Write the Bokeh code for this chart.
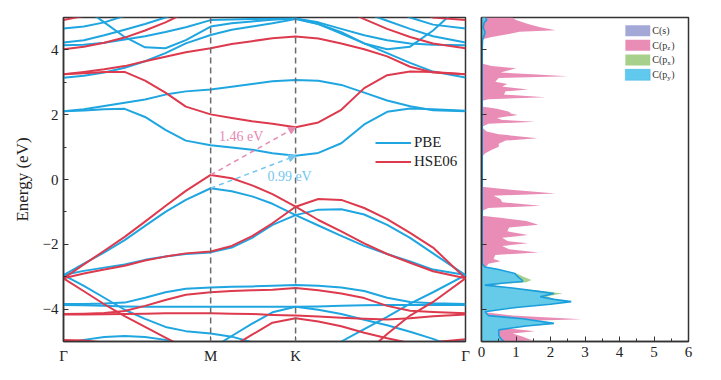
from bokeh.plotting import figure
from bokeh.layouts import row
from bokeh.models import (FixedTicker, Span, Legend, LegendItem, Label, Arrow,
                          NormalHead, BoxAnnotation, Range1d)
from bokeh.embed import file_html
from bokeh.resources import INLINE

# ---------------- data ----------------
K_PATH = [0, 0.08, 0.16, 0.24, 0.32, 0.40, 0.48, 0.5774, 0.66, 0.74, 0.82,
          0.9107, 1.0, 1.09, 1.18, 1.27, 1.36, 1.45, 1.5774]
K_TICKS = [0, 0.5774, 0.9107, 1.5774]
K_LABELS = ["Γ", "M", "K", "Γ"]
E_TICKS = [-4, -2, 0, 2, 4]

pbe_cb1 = [2.11, 2.13, 2.17, 2.18, 1.93, 1.53, 1.2, 1.06, 0.99, 0.92, 0.81, 0.73, 0.82, 1.12, 1.7, 2.09, 2.19, 2.17, 2.12]
pbe_cb2 = [2.11, 2.17, 2.27, 2.37, 2.47, 2.62, 2.72, 2.78, 2.86, 2.95, 3.03, 3.07, 3.05, 2.92, 2.68, 2.44, 2.26, 2.14, 2.11]
pbe_cb3 = [3.14, 3.2, 3.3, 3.45, 3.65, 3.9, 4.2, 4.46, 4.62, 4.72, 4.82, 4.95, 4.8, 4.55, 4.2, 3.9, 3.6, 3.33, 3.15]
pbe_b4 = [4.23, 4.3, 4.45, 4.62, 4.8, 5.0, 5.2, 5.4, 5.5, 5.6, 5.65, 5.7, 5.6, 5.4, 5.15, 4.9, 4.65, 4.42, 4.23]
pbe_b5 = [5.6, 5.3, 4.85, 4.4, 4.08, 4.05, 4.3, 4.72, 4.82, 4.88, 4.93, 4.97, 4.8, 4.5, 4.2, 4.02, 4.1, 4.6, 5.5]
pbe_b6 = [4.66, 4.72, 4.85, 5.05, 5.25, 5.45, 5.6, 5.75, 5.85, 5.9, 5.95, 6.0, 5.95, 5.8, 5.6, 5.35, 5.0, 4.78, 4.66]
pbe_b7 = [4.14, 4.16, 4.22, 4.32, 4.42, 4.55, 4.7, 4.92, 4.94, 4.95, 4.96, 4.97, 4.85, 4.65, 4.45, 4.3, 4.2, 4.16, 4.14]
pbe_vb1 = [-2.95, -2.6, -2.25, -1.87, -1.43, -1.0, -0.63, -0.27, -0.36, -0.52, -0.75, -1.1, -1.42, -1.74, -2.05, -2.3, -2.53, -2.78, -2.95]
pbe_vb2 = [-2.95, -2.82, -2.72, -2.62, -2.48, -2.38, -2.3, -2.25, -2.1, -1.8, -1.4, -1.1, -0.93, -0.92, -1.08, -1.4, -1.8, -2.28, -2.95]
pbe_l1 = [-2.95, -3.28, -3.65, -4.02, -4.3, -4.55, -4.68, -4.75, -4.85, -5.02, -5.3, -5.5, -5.4, -5.0, -4.62, -4.24, -3.83, -3.48, -2.95]
pbe_f1 = [-3.84, -3.84, -3.83, -3.8, -3.65, -3.48, -3.37, -3.33, -3.31, -3.3, -3.28, -3.26, -3.28, -3.33, -3.44, -3.65, -3.78, -3.82, -3.84]
pbe_f2 = [-3.87, -3.88, -3.9, -3.92, -3.93, -3.93, -3.93, -3.93, -3.93, -3.93, -3.93, -3.93, -3.92, -3.9, -3.88, -3.87, -3.87, -3.87, -3.87]
pbe_l2 = [-6.5, -6.4, -6.3, -6.2, -6.0, -5.85, -5.6, -5.23, -4.83, -4.45, -4.1, -3.93, -4.02, -4.15, -4.33, -4.5, -4.7, -4.92, -5.3]
pbe_bot = [-5.05, -4.95, -4.86, -4.83, -4.86, -4.95, -5.1, -5.3, -5.5, -5.6, -5.7, -5.75, -5.7, -5.6, -5.45, -5.3, -5.15, -5.02, -4.98]

hse_cb1 = [3.25, 3.28, 3.32, 3.32, 3.05, 2.68, 2.25, 2.01, 1.9, 1.8, 1.72, 1.61, 1.76, 2.15, 2.82, 3.22, 3.33, 3.32, 3.25]
hse_cb2 = [3.25, 3.32, 3.4, 3.5, 3.65, 3.79, 3.93, 4.05, 4.18, 4.27, 4.36, 4.41, 4.35, 4.2, 4.02, 3.8, 3.48, 3.3, 3.25]
hse_r3 = [4.02, 4.1, 4.22, 4.38, 4.6, 4.85, 5.15, 5.4, 5.5, 5.6, 5.7, 5.8, 5.6, 5.3, 4.95, 4.65, 4.4, 4.2, 4.05]
hse_r4 = [4.92, 5.05, 5.3, 5.6, 5.9, 6.1, 6.2, 6.3, 6.3, 6.3, 6.3, 6.3, 6.3, 6.2, 6.0, 5.7, 5.3, 5.0, 4.92]
hse_vb1 = [-3.05, -2.62, -2.2, -1.77, -1.3, -0.82, -0.35, 0.14, 0.04, -0.18, -0.45, -0.84, -1.25, -1.6, -1.97, -2.3, -2.57, -2.83, -3.05]
hse_vb2 = [-3.05, -2.9, -2.78, -2.66, -2.5, -2.38, -2.28, -2.22, -2.05, -1.75, -1.35, -0.84, -0.6, -0.63, -0.88, -1.22, -1.65, -2.1, -3.05]
hse_l1 = [-3.05, -3.45, -3.85, -4.22, -4.55, -4.88, -5.2, -5.5, -5.7, -5.8, -5.9, -5.9, -5.8, -5.6, -5.4, -4.77, -4.2, -3.78, -3.05]
hse_f1 = [-4.15, -4.14, -4.12, -4.06, -3.9, -3.72, -3.56, -3.48, -3.44, -3.42, -3.4, -3.35, -3.42, -3.52, -3.66, -3.9, -4.05, -4.09, -4.13]
hse_f2 = [-4.17, -4.17, -4.16, -4.15, -4.14, -4.13, -4.13, -4.13, -4.14, -4.15, -4.18, -4.2, -4.23, -4.27, -4.3, -4.32, -4.28, -4.22, -4.17]
hse_l2 = [-6.5, -6.4, -6.3, -6.2, -6.1, -5.95, -5.8, -5.6, -5.17, -4.79, -4.42, -4.28, -4.38, -4.53, -4.73, -4.9, -5.05, -5.3, -5.6]
hse_bot = [-4.95, -4.97, -5.03, -5.12, -5.25, -5.4, -5.55, -5.7, -5.8, -5.9, -5.95, -6.0, -5.95, -5.85, -5.7, -5.45, -5.2, -5.02, -4.93]

PBE_BANDS = [pbe_cb1, pbe_cb2, pbe_cb3, pbe_b4, pbe_b5, pbe_b6, pbe_b7, pbe_vb1,
             pbe_vb2, pbe_l1, pbe_f1, pbe_f2, pbe_l2, pbe_bot]
HSE_BANDS = [hse_cb1, hse_cb2, hse_r3, hse_r4, hse_vb1, hse_vb2, hse_l1, hse_f1,
             hse_f2, hse_l2, hse_bot]
GAP_LABELS = ["1.46 eV", "0.99 eV"]

# DOS (energy, states)
PZ_E = [5.0, 4.92, 4.8, 4.7, 4.61, 4.56, 4.48, 4.4, 4.32, 3.58, 3.5, 3.43, 3.37, 3.3, 3.24, 3.19, 3.13, 3.02, 2.95, 2.87, 2.78, 2.72, 2.62, 2.54, 2.48, 2.42, 2.25, 2.18, 2.09, 2.04, 1.99, 1.9, 1.84, 1.78, 1.72, 1.62, 1.48, 1.4, 1.27, 1.2, 1.1, 1.01, 0.92, 0.8, 0.68, -0.22, -0.3, -0.43, -0.5, -0.6, -0.7, -0.81, -0.88, -0.98, -1.12, -1.18, -1.28, -1.4, -1.48, -1.6, -1.71, -1.8, -1.9, -1.97, -2.05, -2.15, -2.25, -2.33, -2.45, -2.52, -2.6, -2.75, -3.0, -3.5, -4.1, -4.2, -4.31, -4.37, -4.5, -4.6, -4.68, -4.75, -4.85, -4.95, -5.0]
PZ_DOS = [0.9, 1.0, 1.35, 1.7, 2.15, 1.1, 0.75, 0.3, 0.0, 0.0, 0.3, 1.0, 0.8, 0.55, 1.6, 2.5, 0.5, 0.4, 0.75, 0.6, 1.35, 0.7, 0.65, 1.85, 0.2, 0.0, 0.0, 0.45, 0.8, 0.85, 1.05, 0.45, 0.6, 1.55, 0.2, 0.0, 0.15, 0.5, 1.62, 0.7, 0.5, 0.5, 0.3, 0.1, 0.0, 0.0, 0.7, 2.15, 0.35, 0.55, 0.6, 1.72, 0.2, 0.0, 0.0, 0.55, 1.3, 1.65, 0.8, 0.75, 1.35, 0.6, 0.75, 1.35, 0.6, 0.8, 1.65, 0.4, 0.35, 0.55, 0.2, 0.1, 0.1, 0.1, 0.1, 0.9, 2.9, 1.2, 0.5, 0.8, 1.55, 0.9, 1.2, 1.45, 1.0]
PY_E = [5.0, 4.92, 4.85, 4.7, 4.55, 4.45, 4.3, 4.0, -2.6, -2.7, -2.78, -2.9, -3.0, -3.08, -3.15, -3.2, -3.26, -3.35, -3.46, -3.52, -3.62, -3.7, -3.77, -3.85, -3.95, -4.08, -4.2, -4.3, -4.44, -4.52, -4.64, -4.8, -4.9, -5.0]
PY_DOS = [0.12, 0.15, 0.08, 0.05, 0.1, 0.08, 0.03, 0.02, 0.02, 0.1, 0.5, 0.97, 1.05, 1.15, 1.2, 0.6, 0.1, 0.9, 1.7, 2.1, 1.7, 2.1, 2.6, 2.0, 1.0, 0.1, 0.2, 1.2, 2.1, 1.3, 0.5, 0.5, 0.55, 0.65]
PX_E = [-2.7, -2.8, -2.92, -3.02, -3.1, -3.17, -3.22, -3.27, -3.36, -3.46, -3.52, -3.6, -3.7, -3.77, -3.85, -3.95, -4.08, -4.2, -4.3, -4.44, -4.52, -4.64, -4.8, -5.0]
PX_DOS = [0.1, 0.55, 1.05, 1.25, 1.45, 1.3, 0.6, 0.15, 0.95, 1.9, 2.35, 1.9, 2.15, 2.55, 2.0, 1.0, 0.1, 0.2, 1.2, 2.05, 1.3, 0.5, 0.5, 0.6]
S_E = [-2.7, -3.0, -3.5, -3.8, -4.1, -4.4, -4.7, -5.0]
S_DOS = [0.0, 0.3, 0.5, 0.6, 0.1, 0.5, 0.6, 0.7]
DOS_TICKS = [0, 1, 2, 3, 4, 5, 6]
DOS_LABELS = ["C(s)", "C(p", "C(p", "C(p"]
DOS_SUBS = ["", "z", "x", "y"]

# ---------------- style ----------------
BLUE = "#1FA6E0"
RED = "#DE3A4E"
PINK_T = "#E58AB2"
BLUE_T = "#74C6EE"
FONT = "Liberation Serif"
AX = "#333333"

def style_axes(p):
    p.grid.visible = False
    p.outline_line_color = AX
    p.outline_line_width = 1.5
    for ax in p.xaxis + p.yaxis:
        ax.axis_line_color = AX
        ax.axis_line_width = 1.5
        ax.major_tick_line_color = AX
        ax.minor_tick_line_color = AX
        ax.major_tick_in = 5
        ax.major_tick_out = 0
        ax.minor_tick_in = 3
        ax.minor_tick_out = 0
        ax.major_label_text_font = FONT
        ax.major_label_text_font_size = "15px"
        ax.major_label_text_color = "#222222"

# ---------------- band structure ----------------
p = figure(width=473, height=371, x_range=Range1d(0, K_PATH[-1]), y_range=Range1d(-5, 5),
           output_backend="svg", toolbar_location=None,
           min_border_left=63, min_border_right=8, min_border_top=17, min_border_bottom=30)
style_axes(p)
p.xaxis.ticker = FixedTicker(ticks=K_TICKS, minor_ticks=[])
p.xaxis.major_label_overrides = {k: l for k, l in zip(K_TICKS, K_LABELS)}
p.xaxis.major_label_standoff = 6
p.yaxis.ticker = FixedTicker(ticks=E_TICKS, minor_ticks=[-5, -3, -1, 1, 3, 5])
p.yaxis.axis_label = "Energy (eV)"
p.yaxis.axis_label_text_font = FONT
p.yaxis.axis_label_text_font_size = "17px"
p.yaxis.axis_label_text_font_style = "normal"
p.yaxis.axis_label_text_color = "#222222"
p.yaxis.axis_label_standoff = 8
p.yaxis.major_label_standoff = 5

for loc in K_TICKS[1:3]:
    p.add_layout(Span(location=loc, dimension="height", line_color="#6a6a6a",
                      line_width=1.5, line_dash="6 4"))

pbe_r = [p.line(K_PATH, b, line_color=BLUE, line_width=2, line_join="round") for b in PBE_BANDS]
hse_r = [p.line(K_PATH, b, line_color=RED, line_width=2, line_join="round") for b in HSE_BANDS]

iM, iK = K_PATH.index(K_TICKS[1]), K_PATH.index(K_TICKS[2])
p.add_layout(Arrow(end=NormalHead(size=7, fill_color=PINK_T, line_color=PINK_T),
                   x_start=K_PATH[iM], y_start=hse_vb1[iM], x_end=K_PATH[iK], y_end=hse_cb1[iK],
                   line_color=PINK_T, line_width=1.5, line_dash="5 4"))
p.add_layout(Arrow(end=NormalHead(size=7, fill_color=BLUE_T, line_color=BLUE_T),
                   x_start=K_PATH[iM], y_start=pbe_vb1[iM], x_end=K_PATH[iK], y_end=pbe_cb1[iK],
                   line_color=BLUE_T, line_width=1.5, line_dash="5 4"))
p.add_layout(Label(x=0.61, y=1.32, text=GAP_LABELS[0], text_color=PINK_T, text_font=FONT,
                   text_font_size="14px", text_baseline="middle"))
p.add_layout(Label(x=0.80, y=0.09, text=GAP_LABELS[1], text_color=BLUE_T, text_font=FONT,
                   text_font_size="14px", text_baseline="middle"))

leg = Legend(items=[LegendItem(label="PBE", renderers=[pbe_r[0]]),
                    LegendItem(label="HSE06", renderers=[hse_r[0]])],
             location=(312, 170), glyph_width=36, glyph_height=19, label_height=19,
             label_standoff=3, spacing=0, padding=0, margin=0,
             border_line_color=None, background_fill_alpha=0,
             label_text_font=FONT, label_text_font_size="15px", label_text_color="#222222")
p.add_layout(leg)

# ---------------- DOS ----------------
q = figure(width=235, height=371, x_range=Range1d(0, 6), y_range=p.y_range,
           output_backend="svg", toolbar_location=None,
           min_border_left=8, min_border_right=20, min_border_top=17, min_border_bottom=30)
style_axes(q)
q.xaxis.ticker = FixedTicker(ticks=DOS_TICKS, minor_ticks=[0.5, 1.5, 2.5, 3.5, 4.5, 5.5])
q.yaxis.ticker = FixedTicker(ticks=E_TICKS, minor_ticks=[])
q.yaxis.major_label_overrides = {t: "" for t in E_TICKS}
q.yaxis.major_label_standoff = 0

q.harea(x1=0, x2=S_DOS, y=S_E, fill_color="#A3A8D6", fill_alpha=0.8)
q.harea(x1=0, x2=PZ_DOS, y=PZ_E, fill_color="#E98DB6", fill_alpha=1.0)
q.harea(x1=0, x2=PX_DOS, y=PX_E, fill_color="#A7D08C", fill_alpha=1.0)
q.harea(x1=0, x2=PY_DOS, y=PY_E, fill_color="#62C9EE", fill_alpha=0.95)
q.line(PY_DOS, PY_E, line_color="#1A9FDC", line_width=1.6)

sw_colors = ["#A3A8D6", "#E98DB6", "#A7D08C", "#62C9EE"]
sw_lines = [None, None, None, "#1A9FDC"]
rows_e = [4.59, 4.14, 3.69, 3.23]
for c, lc, ey, lab, sub in zip(sw_colors, sw_lines, rows_e, DOS_LABELS, DOS_SUBS):
    q.add_layout(BoxAnnotation(left=4.17, right=4.89, bottom=ey - 0.17, top=ey + 0.17,
                               fill_color=c, fill_alpha=1.0, line_color=lc,
                               line_width=1.2 if lc else 0))
    q.add_layout(Label(x=4.95, y=ey, text=lab, text_font=FONT, text_font_size="10px",
                       text_baseline="middle", text_color="#333333"))
    if sub:
        q.add_layout(Label(x=4.95, y=ey, x_offset=15, y_offset=-3, text=sub, text_font=FONT,
                           text_font_size="7px", text_baseline="middle", text_color="#333333"))
        q.add_layout(Label(x=4.95, y=ey, x_offset=19, text=")", text_font=FONT,
                           text_font_size="10px", text_baseline="middle", text_color="#333333"))

layout = row(p, q)
open("out.html", "w").write(file_html(layout, INLINE))
